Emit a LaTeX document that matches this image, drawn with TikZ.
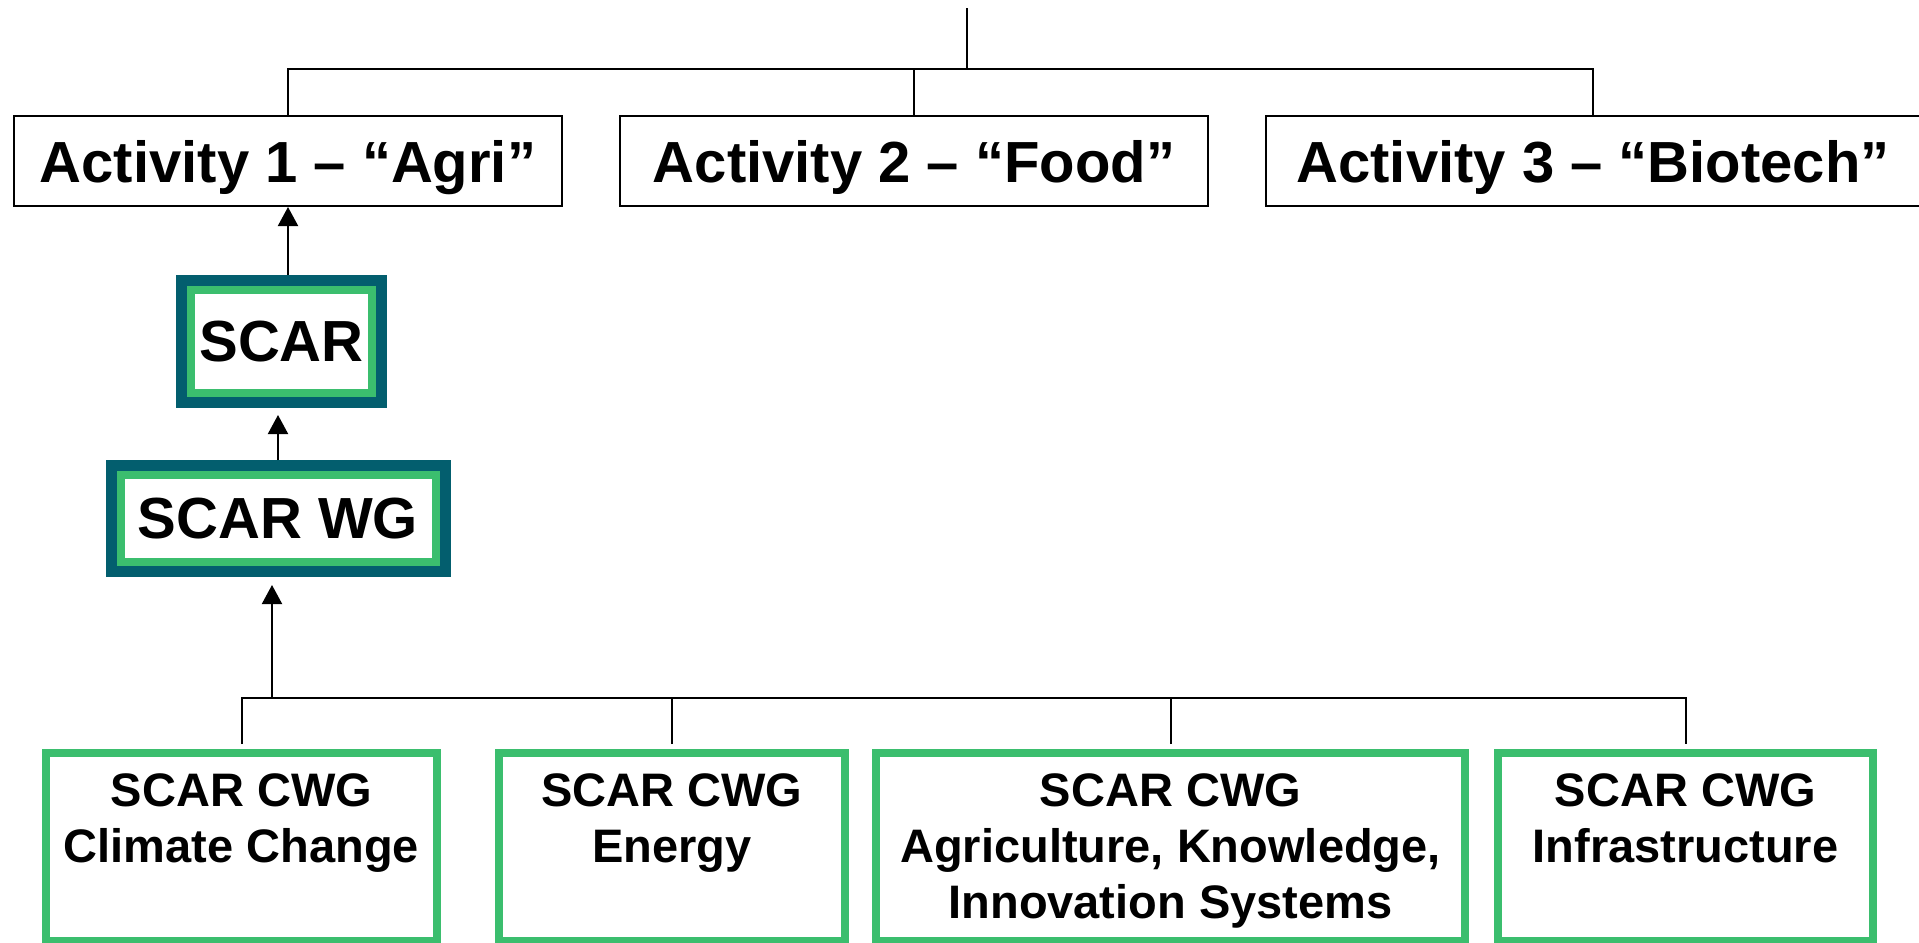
\documentclass[tikz,border=0pt]{standalone}
\usepackage{fontspec}
\setmainfont{Liberation Sans}
\usepackage{tikz}
\usepackage{xcolor}
\definecolor{scarteal}{HTML}{035E6E}
\definecolor{scargreen}{HTML}{3BBE6E}
\tikzset{activity/.style={draw=black, line width=1pt, fill=white, text depth=0pt,
   font=\bfseries\fontsize{29}{34}\selectfont},
 scarouter/.style={draw=scarteal, line width=5.5pt, fill=white},
 scarinner/.style={draw=scargreen, line width=4pt, font=\bfseries\fontsize{29}{34}\selectfont},
 cwgbox/.style={draw=scargreen, line width=4pt, fill=white, minimum height=94pt},
 cwgtext/.style={inner sep=0pt, align=center, font=\bfseries\fontsize{23.5}{28}\selectfont},
 link/.style={draw, line width=1pt},
 uplink/.style={link, -{Triangle[width=10pt,length=9.5pt]}},
 }
\usetikzlibrary{arrows.meta}
\usetikzlibrary{positioning}

\begin{document}
\begin{tikzpicture}[x=0.5pt, y=-0.5pt]
        \useasboundingbox (0,0) rectangle (1919,943);
        \node[activity, minimum width=273.75pt, minimum height=45pt] (act1) at (288,161) {Activity 1 – “Agri”};
        \node[activity, minimum width=294pt, minimum height=45pt] (act2) at (914,161) {Activity 2 – “Food”};
        \node[activity, minimum width=327pt, minimum height=45pt] (act3) at (1593,161) {Activity 3 – “Biotech”};
        \coordinate (root) at (967,8);
        \coordinate (rootbar) at (967,69);
        \draw[link] (root) -- (rootbar);
        \draw[link] (act1.north) |- (act3.north |- rootbar) -- (act3.north);
        \draw[link] (act2.north) -- (act2.north |- rootbar);
        \node[scarouter, minimum width=100pt, minimum height=61pt] (scar) at (281.5,341.5) {};
        \node[scarinner, minimum width=90.5pt, minimum height=51.5pt] (scartxt) at (scar) {SCAR};
        \node[scarouter, minimum width=167pt, minimum height=53pt] (scarwg) at (278,518.5) {};
        \node[scarinner, minimum width=157.5pt, minimum height=43.5pt] (scarwgtxt) at (scarwg) {SCAR WG};
        \draw[uplink] (act1.south |- scar.north) -- (act1.south);
        \draw[uplink, shorten >=3.5pt] (scarwg.north) -- (scarwg.north |- scar.south);
        \node[cwgbox, minimum width=195.5pt] (cwg1) at (241.5,847) {};
        \node[cwgbox, minimum width=173pt] (cwg2) at (672,847) {};
        \node[cwgbox, minimum width=294.5pt] (cwg3) at (1170.5,847) {};
        \node[cwgbox, minimum width=187.5pt] (cwg4) at (1685.5,847) {};
        \node[cwgtext, below=12pt of cwg1.north] (cwg1txt) {SCAR CWG\\Climate Change};
        \node[cwgtext, below=12pt of cwg2.north] (cwg2txt) {SCAR CWG\\Energy};
        \node[cwgtext, below=12pt of cwg3.north] (cwg3txt) {SCAR CWG\\Agriculture, Knowledge,\\Innovation Systems};
        \node[cwgtext, below=12pt of cwg4.north] (cwg4txt) {SCAR CWG\\Infrastructure};
        \coordinate (cwgbar) at (272,698);
        \draw[link, shorten <=2.5pt, shorten >=2.5pt] (cwg1.north) |- (cwg4.north |- cwgbar) -- (cwg4.north);
        \draw[link, shorten <=2.5pt] (cwg2.north) -- (cwg2.north |- cwgbar);
        \draw[link, shorten <=2.5pt] (cwg3.north) -- (cwg3.north |- cwgbar);
        \draw[uplink, shorten >=4pt] (cwgbar) -- (cwgbar |- scarwg.south);
    \end{tikzpicture}
\end{document}
